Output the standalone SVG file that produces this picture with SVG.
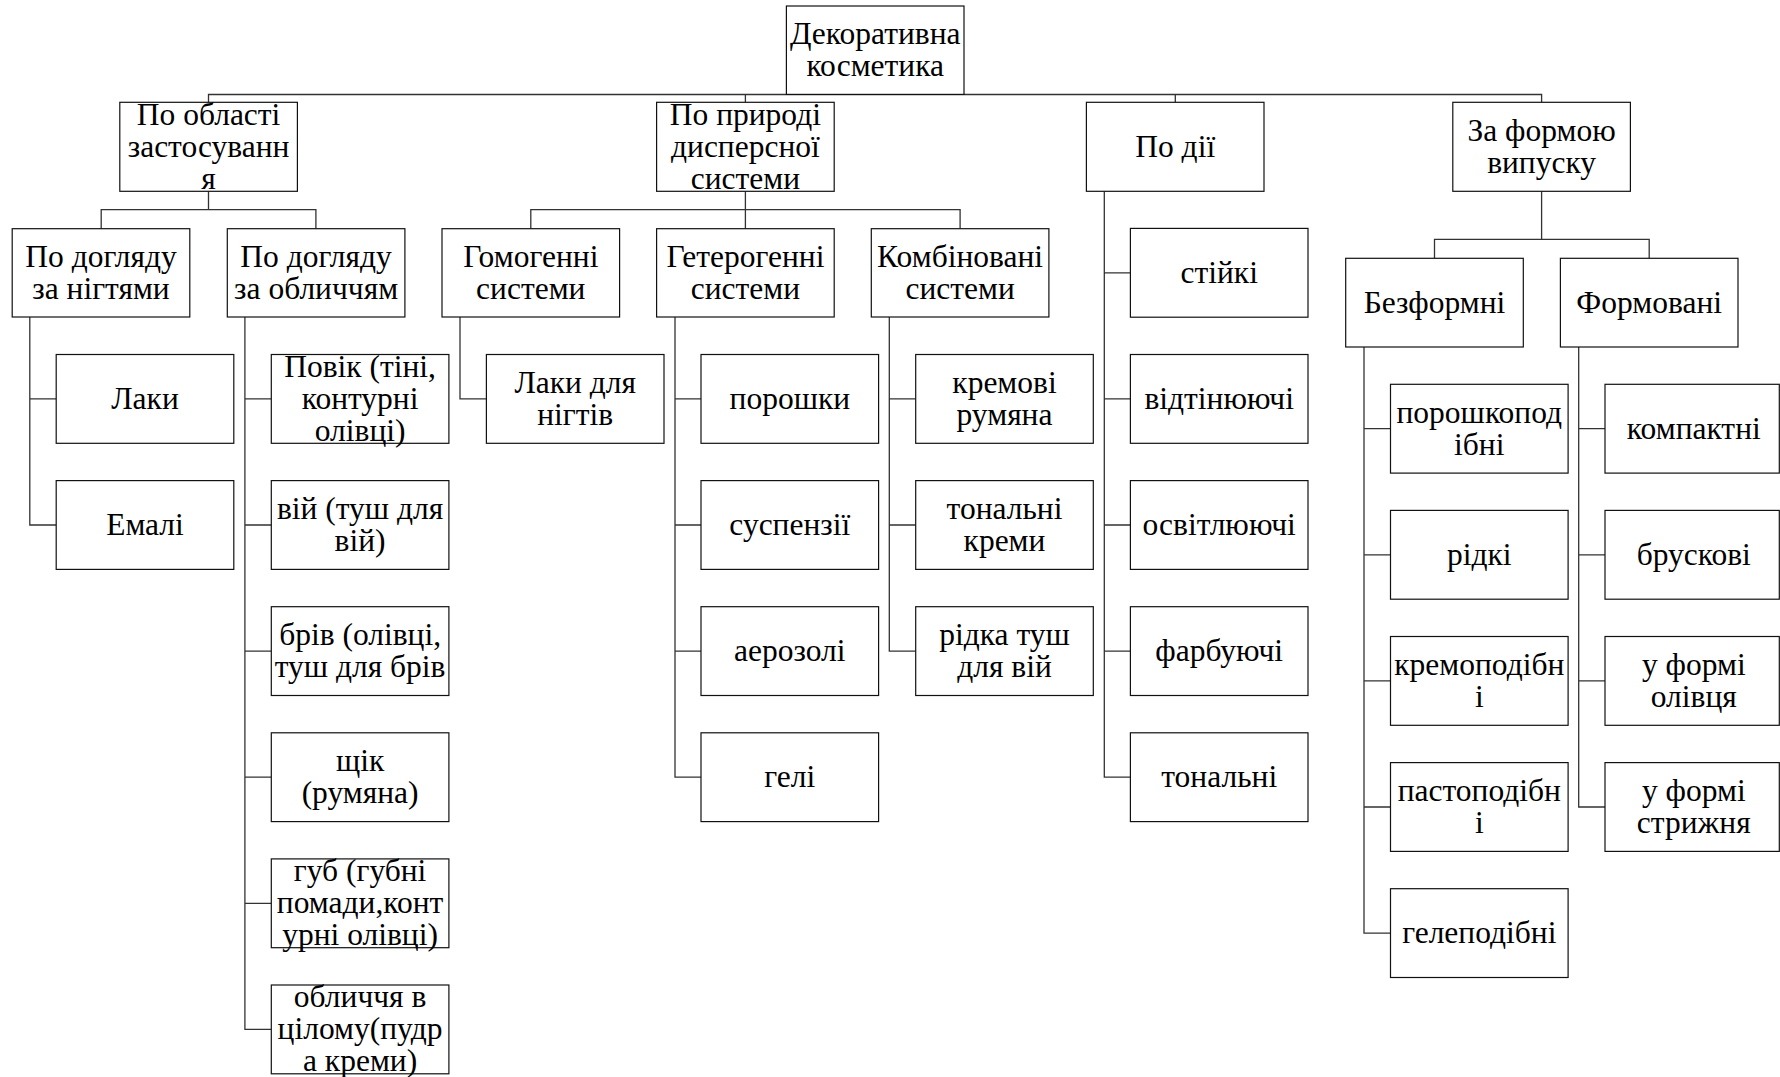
<svg xmlns="http://www.w3.org/2000/svg" width="1780" height="1077" viewBox="0 0 1780 1077">
<style>
rect.b{fill:#fff;stroke:#111;stroke-width:1.2}
text{font-family:"Liberation Serif","Times New Roman",serif;font-size:31.5px;fill:#000;text-anchor:middle}
#connectors path{fill:none;stroke:#333;stroke-width:1.3}
</style>
<rect width="1780" height="1077" fill="#fff"/>
<g id="connectors">
<path d="M208.5,102.3V94.5H1541.6V102.3M745.4,94.5V102.3M1175.3,94.5V102.3"/>
<path d="M208.5,191.3V209.7M101.2,228.7V209.7H315.9V228.7"/>
<path d="M745.4,191.3V228.7M530.8,228.7V209.7H960.1V228.7"/>
<path d="M1541.6,191.3V239.3M1434.5,258.3V239.3H1649.2V258.3"/>
<path d="M29.8,317V525H56.2M29.8,398.9H56.2"/>
<path d="M244.9,317V1029.4H271.3M244.9,398.9H271.3M244.9,525H271.3M244.9,651.1H271.3M244.9,777.2H271.3M244.9,903.3H271.3"/>
<path d="M460,317V398.9H486.4"/>
<path d="M675,317V777.2H701M675,398.9H701M675,525H701M675,651.1H701"/>
<path d="M889.3,317V651.1H915.7M889.3,398.9H915.7M889.3,525H915.7"/>
<path d="M1104.3,191.3V777.2H1130.4M1104.3,272.8H1130.4M1104.3,398.9H1130.4M1104.3,525H1130.4M1104.3,651.1H1130.4"/>
<path d="M1364,347V933.1H1390.5M1364,428.7H1390.5M1364,554.8H1390.5M1364,680.9H1390.5M1364,807H1390.5"/>
<path d="M1578.7,347V807H1605M1578.7,428.7H1605M1578.7,554.8H1605M1578.7,680.9H1605"/>
</g>
<g id="root"><rect class="b" x="786.4" y="6" width="177.6" height="88.4"/><text x="875.2" y="44.2">Декоративна</text><text x="875.2" y="76.2">косметика</text></g>
<g id="n-oblast"><rect class="b" x="119.8" y="102.3" width="177.6" height="89"/><text x="208.6" y="124.8">По області</text><text x="208.6" y="156.8">застосуванн</text><text x="208.6" y="188.8">я</text></g>
<g id="n-pryroda"><rect class="b" x="656.6" y="102.3" width="177.6" height="89"/><text x="745.4" y="124.8">По природі</text><text x="745.4" y="156.8">дисперсної</text><text x="745.4" y="188.8">системи</text></g>
<g id="n-dii"><rect class="b" x="1086.4" y="102.3" width="177.6" height="89"/><text x="1175.2" y="156.8">По дії</text></g>
<g id="n-forma"><rect class="b" x="1452.8" y="102.3" width="177.6" height="89"/><text x="1541.6" y="140.8">За формою</text><text x="1541.6" y="172.8">випуску</text></g>
<g id="n-nigti"><rect class="b" x="12.2" y="228.7" width="177.6" height="88.3"/><text x="101" y="266.9">По догляду</text><text x="101" y="298.9">за нігтями</text></g>
<g id="n-oblychchia"><rect class="b" x="227.3" y="228.7" width="177.6" height="88.3"/><text x="316.1" y="266.9">По догляду</text><text x="316.1" y="298.9">за обличчям</text></g>
<g id="n-gomo"><rect class="b" x="442" y="228.7" width="177.6" height="88.3"/><text x="530.8" y="266.9">Гомогенні</text><text x="530.8" y="298.9">системи</text></g>
<g id="n-getero"><rect class="b" x="656.6" y="228.7" width="177.6" height="88.3"/><text x="745.4" y="266.9">Гетерогенні</text><text x="745.4" y="298.9">системи</text></g>
<g id="n-komb"><rect class="b" x="871.3" y="228.7" width="177.6" height="88.3"/><text x="960.1" y="266.9">Комбіновані</text><text x="960.1" y="298.9">системи</text></g>
<g id="n-bezform"><rect class="b" x="1345.7" y="258.3" width="177.6" height="88.7"/><text x="1434.5" y="312.7">Безформні</text></g>
<g id="n-formov"><rect class="b" x="1560.4" y="258.3" width="177.6" height="88.7"/><text x="1649.2" y="312.7">Формовані</text></g>

<g id="l-laky"><rect class="b" x="56.2" y="354.5" width="177.6" height="88.8"/><text x="145" y="408.9">Лаки</text></g>
<g id="l-emali"><rect class="b" x="56.2" y="480.6" width="177.6" height="88.8"/><text x="145" y="535">Емалі</text></g>

<g id="l-povik"><rect class="b" x="271.3" y="354.5" width="177.6" height="88.8"/><text x="360.1" y="376.9">Повік (тіні,</text><text x="360.1" y="408.9">контурні</text><text x="360.1" y="440.9">олівці)</text></g>
<g id="l-vii"><rect class="b" x="271.3" y="480.6" width="177.6" height="88.8"/><text x="360.1" y="519">вій (туш для</text><text x="360.1" y="551">вій)</text></g>
<g id="l-briv"><rect class="b" x="271.3" y="606.7" width="177.6" height="88.8"/><text x="360.1" y="645.1">брів (олівці,</text><text x="360.1" y="677.1">туш для брів</text></g>
<g id="l-shchik"><rect class="b" x="271.3" y="732.8" width="177.6" height="88.8"/><text x="360.1" y="771.2">щік</text><text x="360.1" y="803.2">(румяна)</text></g>
<g id="l-hub"><rect class="b" x="271.3" y="858.9" width="177.6" height="88.8"/><text x="360.1" y="881.3">губ (губні</text><text x="360.1" y="913.3">помади,конт</text><text x="360.1" y="945.3">урні олівці)</text></g>
<g id="l-oblych"><rect class="b" x="271.3" y="985" width="177.6" height="88.8"/><text x="360.1" y="1007.4">обличчя в</text><text x="360.1" y="1039.4">цілому(пудр</text><text x="360.1" y="1071.4">а креми)</text></g>

<g id="l-laky-nigtiv"><rect class="b" x="486.4" y="354.5" width="177.6" height="88.8"/><text x="575.2" y="392.9">Лаки для</text><text x="575.2" y="424.9">нігтів</text></g>

<g id="l-poroshky"><rect class="b" x="701" y="354.5" width="177.6" height="88.8"/><text x="789.8" y="408.9">порошки</text></g>
<g id="l-suspenzii"><rect class="b" x="701" y="480.6" width="177.6" height="88.8"/><text x="789.8" y="535">суспензії</text></g>
<g id="l-aerozoli"><rect class="b" x="701" y="606.7" width="177.6" height="88.8"/><text x="789.8" y="661.1">аерозолі</text></g>
<g id="l-heli"><rect class="b" x="701" y="732.8" width="177.6" height="88.8"/><text x="789.8" y="787.2">гелі</text></g>

<g id="l-kremovi"><rect class="b" x="915.7" y="354.5" width="177.6" height="88.8"/><text x="1004.5" y="392.9">кремові</text><text x="1004.5" y="424.9">румяна</text></g>
<g id="l-tonalni-kremy"><rect class="b" x="915.7" y="480.6" width="177.6" height="88.8"/><text x="1004.5" y="519">тональні</text><text x="1004.5" y="551">креми</text></g>
<g id="l-ridka-tush"><rect class="b" x="915.7" y="606.7" width="177.6" height="88.8"/><text x="1004.5" y="645.1">рідка туш</text><text x="1004.5" y="677.1">для вій</text></g>

<g id="l-stiiki"><rect class="b" x="1130.4" y="228.4" width="177.6" height="88.8"/><text x="1219.2" y="282.8">стійкі</text></g>
<g id="l-vidtiniuiuchi"><rect class="b" x="1130.4" y="354.5" width="177.6" height="88.8"/><text x="1219.2" y="408.9">відтінюючі</text></g>
<g id="l-osvitliuiuchi"><rect class="b" x="1130.4" y="480.6" width="177.6" height="88.8"/><text x="1219.2" y="535">освітлюючі</text></g>
<g id="l-farbuiuchi"><rect class="b" x="1130.4" y="606.7" width="177.6" height="88.8"/><text x="1219.2" y="661.1">фарбуючі</text></g>
<g id="l-tonalni"><rect class="b" x="1130.4" y="732.8" width="177.6" height="88.8"/><text x="1219.2" y="787.2">тональні</text></g>

<g id="l-poroshkopod"><rect class="b" x="1390.5" y="384.3" width="177.6" height="88.8"/><text x="1479.3" y="422.7">порошкопод</text><text x="1479.3" y="454.7">ібні</text></g>
<g id="l-ridki"><rect class="b" x="1390.5" y="510.4" width="177.6" height="88.8"/><text x="1479.3" y="564.8">рідкі</text></g>
<g id="l-kremopod"><rect class="b" x="1390.5" y="636.5" width="177.6" height="88.8"/><text x="1479.3" y="674.9">кремоподібн</text><text x="1479.3" y="706.9">і</text></g>
<g id="l-pastopod"><rect class="b" x="1390.5" y="762.6" width="177.6" height="88.8"/><text x="1479.3" y="801">пастоподібн</text><text x="1479.3" y="833">і</text></g>
<g id="l-helepod"><rect class="b" x="1390.5" y="888.7" width="177.6" height="88.8"/><text x="1479.3" y="943.1">гелеподібні</text></g>

<g id="l-kompaktni"><rect class="b" x="1605" y="384.3" width="174.3" height="88.8"/><text x="1693.8" y="438.7">компактні</text></g>
<g id="l-bruskovi"><rect class="b" x="1605" y="510.4" width="174.3" height="88.8"/><text x="1693.8" y="564.8">брускові</text></g>
<g id="l-olivtsia"><rect class="b" x="1605" y="636.5" width="174.3" height="88.8"/><text x="1693.8" y="674.9">у формі</text><text x="1693.8" y="706.9">олівця</text></g>
<g id="l-stryzhnia"><rect class="b" x="1605" y="762.6" width="174.3" height="88.8"/><text x="1693.8" y="801">у формі</text><text x="1693.8" y="833">стрижня</text></g>
</svg>
